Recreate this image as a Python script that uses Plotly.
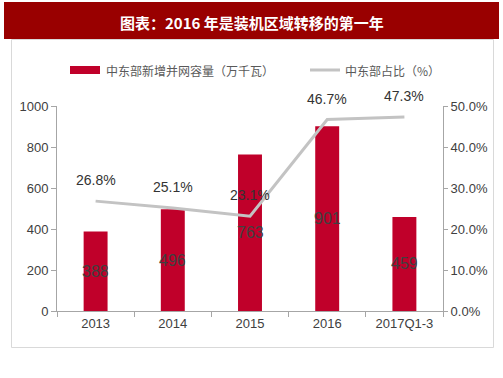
import plotly.graph_objects as go

categories = ["2013", "2014", "2015", "2016", "2017Q1-3"]
capacity = [388, 496, 763, 901, 459]
share = [0.268, 0.251, 0.231, 0.467, 0.473]
share_labels = ["26.8%", "25.1%", "23.1%", "46.7%", "47.3%"]

title_text = "图表：2016 年是装机区域转移的第一年"
bar_name = "中东部新增并网容量（万千瓦）"
line_name = "中东部占比（%）"

BAR_COLOR = "#C0002A"
LINE_COLOR = "#C3C3C3"
TXT = "#404040"

# plot area in pixels
L, R, T, B = 57, 443, 106, 311
W, H = 503, 378
pw, ph = R - L, B - T


def px(x):
    return (x - L) / pw


def py(y):
    return (B - y) / ph


idx = list(range(len(categories)))
bounds = [i - 0.5 for i in range(len(categories) + 1)]

fig = go.Figure()
fig.add_trace(go.Bar(x=idx, y=capacity, marker_color=BAR_COLOR,
                     marker_line_width=0, width=0.31, name=bar_name,
                     showlegend=False, hoverinfo="skip"))
fig.add_trace(go.Scatter(x=idx, y=share, yaxis="y2", mode="lines",
                         line=dict(color=LINE_COLOR, width=3), name=line_name,
                         showlegend=False, hoverinfo="skip"))

annotations = []
for i, v in zip(idx, capacity):
    annotations.append(dict(x=i, y=v / 2, xref="x", yref="y", text=str(v),
                            showarrow=False, xanchor="center", yanchor="middle",
                            font=dict(family="Liberation Sans Narrow, Liberation Sans",
                                      size=16, color=TXT)))
for i, v, t in zip(idx, share, share_labels):
    annotations.append(dict(x=i, y=v, xref="x", yref="y2", text=t,
                            showarrow=False, yshift=21, xanchor="center", yanchor="middle",
                            font=dict(family="Liberation Sans", size=14, color="#333333")))

# title
annotations.append(dict(x=px(252), y=py(22), xref="paper", yref="paper",
                        text="<b>" + title_text + "</b>", showarrow=False,
                        xanchor="center", yanchor="middle",
                        font=dict(family="Noto Sans CJK SC", size=15, color="white")))
# legend texts
annotations.append(dict(x=px(104), y=py(70), xref="paper", yref="paper",
                        text=bar_name, showarrow=False, xanchor="left", yanchor="middle",
                        font=dict(family="Noto Sans CJK SC", size=12, color="#595959")))
annotations.append(dict(x=px(343), y=py(70), xref="paper", yref="paper",
                        text=line_name, showarrow=False, xanchor="left", yanchor="middle",
                        font=dict(family="Noto Sans CJK SC", size=12, color="#595959")))

shapes = [
    dict(type="rect", xref="paper", yref="paper", x0=px(4), x1=px(499),
         y0=py(39), y1=py(2), fillcolor="#990000", line=dict(width=0), layer="below"),
    dict(type="rect", xref="paper", yref="paper", x0=px(11.5), x1=px(493.5),
         y0=py(347.5), y1=py(39.5), fillcolor="rgba(0,0,0,0)",
         line=dict(color="#D9D9D9", width=1), layer="below"),
    dict(type="rect", xref="paper", yref="paper", x0=px(70), x1=px(100),
         y0=py(74), y1=py(66), fillcolor=BAR_COLOR, line=dict(width=0)),
    dict(type="line", xref="paper", yref="paper", x0=px(310), x1=px(340),
         y0=py(70), y1=py(70), line=dict(color=LINE_COLOR, width=3)),
]

axis_font = dict(family="Liberation Sans", size=13, color=TXT)

fig.update_layout(
    width=W, height=H,
    margin=dict(l=L, r=W - R, t=T, b=H - B, autoexpand=False),
    paper_bgcolor="white", plot_bgcolor="white",
    xaxis=dict(range=[-0.5, len(categories) - 0.5], tickmode="array",
               tickvals=idx, ticktext=categories, ticks="", tickangle=0,
               showline=True, linecolor="#A6A6A6", linewidth=1,
               minor=dict(tickmode="array", tickvals=bounds, ticks="outside",
                          ticklen=5, tickcolor="#A6A6A6", showgrid=False),
               tickfont=axis_font, showgrid=False, zeroline=False,
               automargin=False, fixedrange=True),
    yaxis=dict(range=[0, 1000], dtick=200, showline=True, linecolor="#A6A6A6",
               ticks="outside", ticklen=5, tickcolor="#A6A6A6", tickfont=axis_font,
               showgrid=False, zeroline=False, automargin=False),
    yaxis2=dict(range=[0, 0.5], dtick=0.1, tickformat=".1%", overlaying="y",
                side="right", showline=True, linecolor="#A6A6A6", ticks="outside",
                ticklen=4, tickcolor="#A6A6A6", tickfont=axis_font,
                showgrid=False, zeroline=False, automargin=False),
    annotations=annotations,
    shapes=shapes,
    showlegend=False,
)

fig.write_html("out.html", config={"displayModeBar": False, "staticPlot": True},
               post_script="document.body.style.margin='0';document.body.style.overflow='hidden';")
